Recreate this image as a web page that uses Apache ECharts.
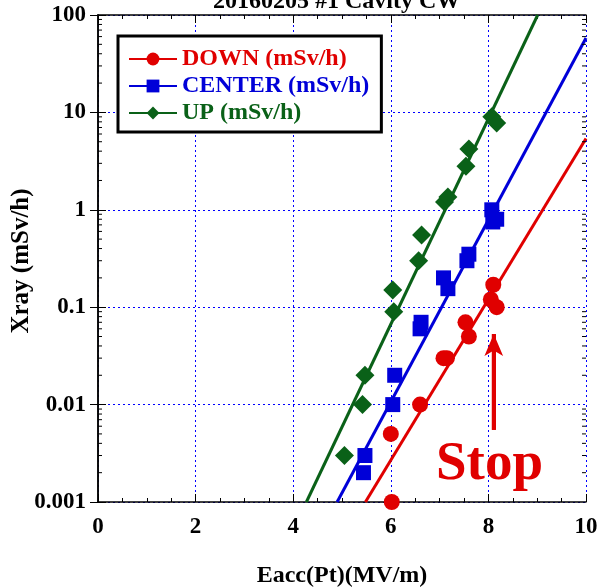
<!DOCTYPE html>
<html><head><meta charset="utf-8">
<script src="https://cdn.jsdelivr.net/npm/echarts@6/dist/echarts.min.js"></script>
<style>html,body{margin:0;padding:0;background:#fff}#c{width:599px;height:587px}</style>
</head><body><div id="c"></div>
<script>
// Data
var downPts = [[6.02,0.001],[6.0,0.005],[6.6,0.01],[7.08,0.03],[7.15,0.03],[7.53,0.07],[7.6,0.05],[8.1,0.17],[8.05,0.12],[8.17,0.1]];
var centerPts = [[5.44,0.002],[5.47,0.003],[6.04,0.01],[6.08,0.02],[6.6,0.06],[6.62,0.07],[7.08,0.2],[7.17,0.155],[7.56,0.3],[7.6,0.35],[8.07,1.0],[8.09,0.75],[8.17,0.8]];
var upPts = [[5.05,0.003],[5.42,0.01],[5.47,0.02],[6.04,0.15],[6.06,0.09],[6.57,0.3],[6.63,0.55],[7.1,1.2],[7.17,1.35],[7.54,2.8],[7.6,4.2],[8.07,9.0],[8.17,7.8]];
var downFit = [[5.48,0.001],[10,5.4]];
var centerFit = [[4.9,0.001],[10,58]];
var upFit = [[4.27,0.001],[9.01,100]];
var arrowPts = [[8.11,0.0055],[8.11,0.053]];
var names = ['DOWN (mSv/h)','CENTER (mSv/h)','UP (mSv/h)'];
var colors = ['#e00000','#0000d8','#0a6118'];
var xTicks = [0,2,4,6,8,10];
var yTicks = [0.001,0.01,0.1,1,10,100];
var yMinorTicks = [];
for (var d = 0; d < yTicks.length - 1; d++) {
  for (var m = 2; m <= 9; m++) yMinorTicks.push(+(yTicks[d] * m).toPrecision(3));
}

var F = 'Liberation Serif';
var chart = echarts.init(document.getElementById('c'));
function fitSeries(i, data, sym, size){
  return {type:'line', name:names[i], data:data, showSymbol:false, symbol:sym, symbolSize:size,
    lineStyle:{color:colors[i], width:3}, itemStyle:{color:colors[i]}, silent:true, z:2};
}
function ptSeries(i, data, sym, size){
  return {type:'scatter', name:names[i], data:data, symbol:sym, symbolSize:size,
    itemStyle:{color:colors[i], opacity:1}, z:3};
}
var gridLine = {show:true, lineStyle:{color:'#0000ff', type:[2,3], width:1}};
var series = [
  fitSeries(0, downFit, 'circle', 15),
  fitSeries(1, centerFit, 'rect', 15),
  fitSeries(2, upFit, 'diamond', 19),
  ptSeries(0, downPts, 'circle', 16),
  ptSeries(1, centerPts, 'rect', 15),
  ptSeries(2, upPts, 'diamond', 19),
  {type:'line', data:arrowPts, showSymbol:false, silent:true, lineStyle:{color:'#e00000', width:4}, z:4,
    markLine:{silent:true, symbol:['none','arrow'], symbolSize:[14,22], label:{show:false},
      lineStyle:{color:'#e00000', width:4, type:'solid'},
      data:[[{coord:arrowPts[0]},{coord:arrowPts[1]}]]}},
  {type:'custom', silent:true, z:5, data:yMinorTicks.map(function(v){return [v];}),
    renderItem:function(params, api){
      var v = api.value(0);
      var l = api.coord([xTicks[0], v]);
      var r = api.coord([xTicks[xTicks.length-1], v]);
      var st = {stroke:'#000', lineWidth:1};
      return {type:'group', children:[
        {type:'line', shape:{x1:l[0], y1:l[1], x2:l[0]+4, y2:l[1]}, style:st},
        {type:'line', shape:{x1:r[0], y1:r[1], x2:r[0]-4, y2:r[1]}, style:st}
      ]};
    }}
];
chart.setOption({
  animation:false,
  textStyle:{fontFamily:F},
  title:{text:'20160205 #1 Cavity CW', left:208, top:-15,
    textStyle:{fontFamily:F, fontWeight:'bold', fontSize:24, color:'#000'}},
  grid:{left:98, right:13, top:15, bottom:85, containLabel:false, outerBoundsMode:'none'},
  legend:{orient:'vertical', left:118, top:36, padding:[11,12,7,10], itemGap:3,
    itemWidth:48, itemHeight:16, backgroundColor:'#fff', borderColor:'#000', borderWidth:3,
    data:names.map(function(n,i){return {name:n, textStyle:{color:colors[i]}};}),
    textStyle:{fontFamily:F, fontWeight:'bold', fontSize:24}},
  xAxis:[
    {type:'value', min:xTicks[0], max:xTicks[xTicks.length-1], interval:2,
     name:'Eacc(Pt)(MV/m)', nameLocation:'middle', nameGap:62,
     nameTextStyle:{fontFamily:F, fontWeight:'bold', fontSize:24, color:'#000'},
     axisLine:{lineStyle:{color:'#000', width:1.5}},
     axisTick:{inside:true, length:8, lineStyle:{color:'#000'}},
     minorTick:{show:true, splitNumber:4, length:4, lineStyle:{color:'#000'}},
     axisLabel:{margin:14, fontFamily:F, fontWeight:'bold', fontSize:23, color:'#000'},
     splitLine:gridLine},
    {type:'value', position:'top', min:0, max:10, interval:2,
     axisLine:{lineStyle:{color:'#000', width:1.5}},
     axisTick:{inside:true, length:8, lineStyle:{color:'#000'}},
     minorTick:{show:true, splitNumber:4, length:4, lineStyle:{color:'#000'}},
     axisLabel:{show:false}, splitLine:{show:false}}
  ],
  yAxis:[
    {type:'log', logBase:10, min:yTicks[0], max:yTicks[yTicks.length-1],
     axisLine:{show:true, lineStyle:{color:'#000', width:1.5}},
     axisTick:{inside:true, length:8, lineStyle:{color:'#000'}},
     minorTick:{show:false},
     axisLabel:{margin:12, fontFamily:F, fontWeight:'bold', fontSize:23, color:'#000',
       formatter:function(v){return String(+v.toPrecision(3));}},
     splitLine:gridLine},
    {type:'log', logBase:10, position:'right', min:0.001, max:100,
     axisLine:{show:true, lineStyle:{color:'#000', width:1.5}},
     axisTick:{inside:true, length:8, lineStyle:{color:'#000'}},
     minorTick:{show:false},
     axisLabel:{show:false}, splitLine:{show:false}}
  ],
  graphic:[
    {type:'text', left:436, top:437, z:10,
     style:{text:'Stop', fill:'#e00000', font:'bold 55px "Liberation Serif"'}},
    {type:'text', x:22, y:261, rotation:Math.PI/2, z:10,
     style:{text:'Xray (mSv/h)', fill:'#000', align:'center', verticalAlign:'middle',
       font:'bold 25px "Liberation Serif"'}}
  ],
  series:series
});
</script></body></html>
